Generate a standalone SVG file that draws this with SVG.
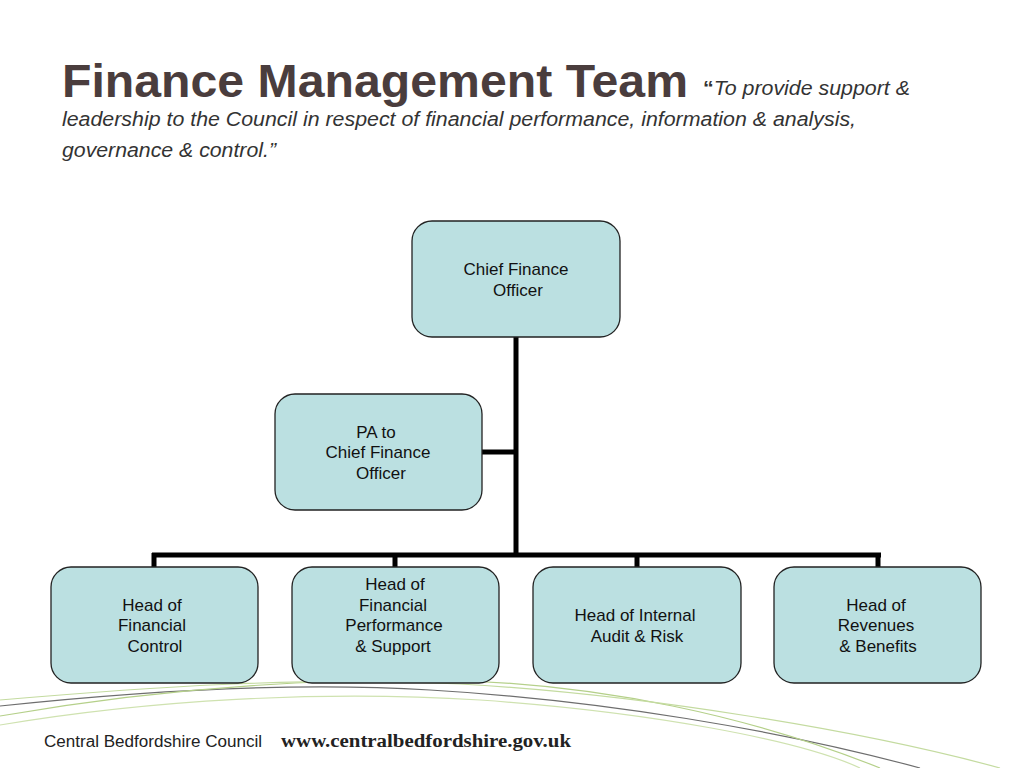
<svg xmlns="http://www.w3.org/2000/svg" width="1024" height="768" viewBox="0 0 1024 768">
<style>
.box{fill:#bbe0e1;stroke:#222;stroke-width:1.3}
.lbl{font-family:"Liberation Sans",Arial,sans-serif;font-size:17px;fill:#111;text-anchor:middle}
.conn{stroke:#000;stroke-width:5;fill:none}
.deco{fill:none;stroke-width:1.2}
</style>
<rect width="1024" height="768" fill="#fff"/>
<g id="decor">
<path class="deco" d="M0,706 C150,690 300,682 430,690 C600,700 780,730 920,768" stroke="#6e6e6e" stroke-width="1.6"/>
<path class="deco" d="M0,716 C120,695 260,680 420,680 C600,680 760,720 880,768" stroke="#b5d08a"/>
<path class="deco" d="M0,700 C140,688 300,676 460,684 C640,694 860,730 1000,768" stroke="#c4dba0"/>
<path class="deco" d="M0,725 C150,700 320,690 480,700 C650,712 800,740 860,768" stroke="#cfe2b0"/>
</g>
<g id="title">
<text x="62" y="97" font-family="'Liberation Sans',Arial,sans-serif" font-weight="bold" font-size="47" fill="#4a3d3d" textLength="626" lengthAdjust="spacingAndGlyphs">Finance Management Team</text>
<text x="703" y="95" font-family="'Liberation Sans',Arial,sans-serif" font-style="italic" font-size="20" fill="#333" textLength="207" lengthAdjust="spacingAndGlyphs"><tspan font-weight="bold" font-style="normal">“</tspan>To provide support &amp;</text>
<text x="62" y="126" font-family="'Liberation Sans',Arial,sans-serif" font-style="italic" font-size="20" fill="#333" textLength="794" lengthAdjust="spacingAndGlyphs">leadership to the Council in respect of financial performance, information &amp; analysis,</text>
<text x="62" y="157" font-family="'Liberation Sans',Arial,sans-serif" font-style="italic" font-size="20" fill="#333" textLength="214" lengthAdjust="spacingAndGlyphs">governance &amp; control.”</text>
</g>
<g id="connectors">
<path class="conn" d="M516,337 V557"/>
<path class="conn" d="M482,452 H518"/>
<path class="conn" d="M152,555 H881"/>
<path class="conn" d="M154,553 V567 M395,553 V567 M637,553 V567 M878,553 V567"/>
</g>
<g id="cfo">
<rect class="box" x="412" y="221" width="208" height="116" rx="20"/>
<text class="lbl" x="516" y="275">Chief Finance</text>
<text class="lbl" x="518" y="296">Officer</text>
</g>
<g id="pa">
<rect class="box" x="275" y="394" width="207" height="116" rx="20"/>
<text class="lbl" x="376" y="438">PA to</text>
<text class="lbl" x="378" y="458">Chief Finance</text>
<text class="lbl" x="381" y="479">Officer</text>
</g>
<g id="hfc">
<rect class="box" x="51" y="567" width="207" height="116" rx="20"/>
<text class="lbl" x="152" y="611">Head of</text>
<text class="lbl" x="152" y="631">Financial</text>
<text class="lbl" x="155" y="652">Control</text>
</g>
<g id="hfps">
<rect class="box" x="292" y="567" width="207" height="116" rx="20"/>
<text class="lbl" x="395" y="590">Head of</text>
<text class="lbl" x="393" y="611">Financial</text>
<text class="lbl" x="394" y="631">Performance</text>
<text class="lbl" x="393" y="652">&amp; Support</text>
</g>
<g id="hiar">
<rect class="box" x="533" y="567" width="208" height="116" rx="20"/>
<text class="lbl" x="635" y="621">Head of Internal</text>
<text class="lbl" x="637" y="642">Audit &amp; Risk</text>
</g>
<g id="hrb">
<rect class="box" x="774" y="567" width="207" height="116" rx="20"/>
<text class="lbl" x="876" y="611">Head of</text>
<text class="lbl" x="876" y="631">Revenues</text>
<text class="lbl" x="878" y="652">&amp; Benefits</text>
</g>
<g id="footer">
<text x="44" y="747" font-family="'Liberation Sans',Arial,sans-serif" font-size="16" fill="#222" textLength="218" lengthAdjust="spacingAndGlyphs">Central Bedfordshire Council</text>
<text x="281" y="747" font-family="'Liberation Serif','Times New Roman',serif" font-weight="bold" font-size="18" fill="#222" textLength="290" lengthAdjust="spacingAndGlyphs">www.centralbedfordshire.gov.uk</text>
</g>
</svg>
